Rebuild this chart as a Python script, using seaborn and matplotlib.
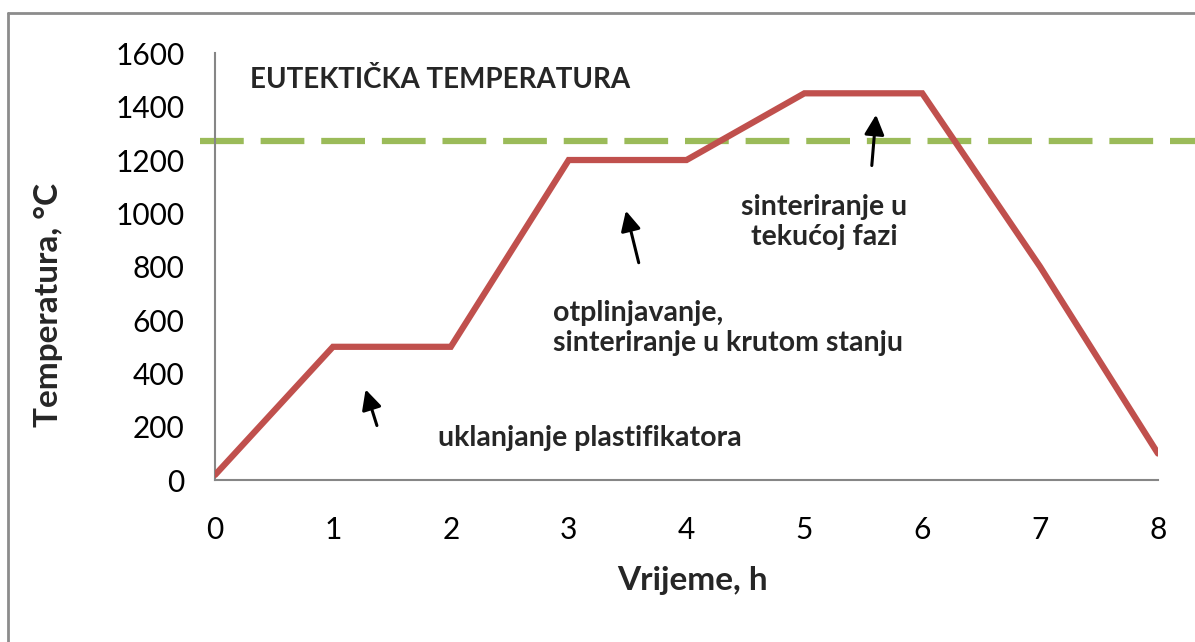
import numpy as np
import pandas as pd
import matplotlib.pyplot as plt
import seaborn as sns
from matplotlib.lines import Line2D

# data
hours = [0, 1, 2, 3, 4, 5, 6, 7, 8]
temps = [20, 500, 500, 1200, 1200, 1450, 1450, 800, 100]
eutectic_temp = 1270
x_ticks = [0, 1, 2, 3, 4, 5, 6, 7, 8]
y_ticks = [0, 200, 400, 600, 800, 1000, 1200, 1400, 1600]

df = pd.DataFrame({'Vrijeme': hours, 'Temperatura': temps})

sns.set_theme(style='white')
plt.rcParams['font.family'] = ['Lato', 'DejaVu Sans']

fig = plt.figure(figsize=(11.95, 6.42), dpi=100)
ax = fig.add_axes([0.18, 0.252, 0.789, 0.665])

# eutectic line, runs a bit past the axes on both sides
ax.axhline(eutectic_temp, xmin=-0.016, xmax=1.04, color='#9bbb59', lw=4.5,
           dashes=(7, 2.7), clip_on=False, zorder=1)

sns.lineplot(data=df, x='Vrijeme', y='Temperatura', ax=ax, color='#c0504d',
             lw=4.5, solid_capstyle='round', solid_joinstyle='miter', zorder=3)

ax.set_xlim(0, 8)
ax.set_ylim(0, 1600)
ax.set_xticks(x_ticks)
ax.set_yticks(y_ticks)
ax.tick_params(axis='both', labelsize=21.5, length=0, colors='black')
ax.tick_params(axis='x', pad=26)
ax.tick_params(axis='y', pad=22)

for s in ['top', 'right']:
    ax.spines[s].set_visible(False)
for s in ['left', 'bottom']:
    ax.spines[s].set_color('#868686')
    ax.spines[s].set_linewidth(1.5)

ax.set_xlabel('Vrijeme, h', fontsize=24, fontweight='bold', va='center')
ax.set_ylabel('Temperatura, °C', fontsize=24, fontweight='bold', va='center')
ax.xaxis.set_label_coords(0.506, -0.234)
ax.yaxis.set_label_coords(-0.177, 0.41)

# annotations
ax.text(0.3, 1500, 'EUTEKTIČKA TEMPERATURA', fontsize=20, fontweight='bold',
        ha='left', va='center')
ax.text(3.18, 160, 'uklanjanje plastifikatora', fontsize=20.5, fontweight='bold',
        ha='center', va='center')
ax.text(2.87, 570, 'otplinjavanje,\nsinteriranje u krutom stanju', fontsize=20.5,
        fontweight='bold', ha='left', va='center', linespacing=1.2)
ax.text(5.17, 967, 'sinteriranje u\ntekućoj fazi', fontsize=20.5,
        fontweight='bold', ha='center', va='center', linespacing=1.2)

arrow = dict(arrowstyle='-|>', color='black', lw=2.2, mutation_scale=30)
ax.annotate('', xy=(1.27, 350), xytext=(1.38, 195), arrowprops=arrow)
ax.annotate('', xy=(3.48, 1020), xytext=(3.6, 805), arrowprops=arrow)
ax.annotate('', xy=(5.61, 1380), xytext=(5.57, 1169), arrowprops=arrow)

# outer frame of the original chart
fig.add_artist(Line2D([8 / 1195, 8 / 1195], [0, 1 - 13 / 642],
                      transform=fig.transFigure, color='#8c8c8c', lw=2))
fig.add_artist(Line2D([8 / 1195, 1], [1 - 13 / 642, 1 - 13 / 642],
                      transform=fig.transFigure, color='#8c8c8c', lw=2))

fig.savefig('out.png', dpi=100)
